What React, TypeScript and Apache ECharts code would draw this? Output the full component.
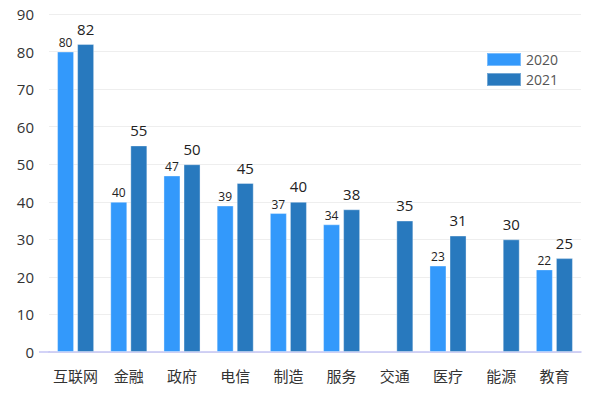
import React, { useEffect, useRef } from "react";
import * as echarts from "echarts";

const categories = ["互联网", "金融", "政府", "电信", "制造", "服务", "交通", "医疗", "能源", "教育"];
const values2020: (number | null)[] = [80, 40, 47, 39, 37, 34, null, 23, null, 22];
const values2021: number[] = [82, 55, 50, 45, 40, 38, 35, 31, 30, 25];
const seriesNames = ["2020", "2021"];
const yTicks = { min: 0, max: 90, interval: 10 };

const FONT = "'Open Sans', 'Noto Sans CJK SC', sans-serif";

export default function App() {
  const ref = useRef<HTMLDivElement>(null);
  useEffect(() => {
    if (!ref.current) return;
    const chart = echarts.init(ref.current, undefined, { renderer: "svg" });
    chart.setOption({
      animation: false,
      backgroundColor: "#ffffff",
      grid: { left: 49, right: 18, top: 14, bottom: 43, containLabel: false },
      legend: {
        orient: "vertical",
        left: 481,
        top: 47,
        itemWidth: 34,
        itemHeight: 13,
        itemGap: 5,
        icon: "rect",
        textStyle: { fontSize: 14, color: "#555", fontFamily: FONT },
        data: seriesNames,
      },
      graphic: [
        {
          type: "line",
          shape: { x1: 39, y1: 352, x2: 50, y2: 352 },
          style: { stroke: "#c4c4f4", lineWidth: 1.5 },
          silent: true,
        },
      ],
      xAxis: {
        type: "category",
        data: categories,
        axisTick: { show: false },
        axisLine: { lineStyle: { color: "#c4c4f4", width: 1.5 } },
        axisLabel: {
          interval: 0,
          margin: 16,
          fontSize: 15,
          color: "#333",
          fontFamily: "'Noto Sans CJK SC', sans-serif",
        },
      },
      yAxis: {
        type: "value",
        min: yTicks.min,
        max: yTicks.max,
        interval: yTicks.interval,
        axisLine: { show: false },
        axisTick: { show: false },
        axisLabel: { margin: 15, fontSize: 15, color: "#333", fontFamily: FONT },
        splitLine: { lineStyle: { color: "#eeeeee" } },
      },
      series: [
        {
          name: seriesNames[0],
          type: "bar",
          data: values2020.map((v) => (v === null ? "-" : v)),
          barWidth: 17,
          barGap: "18%",
          itemStyle: { color: "#3399fb", borderColor: "rgba(255,255,255,0.35)", borderWidth: 1 },
          label: { show: true, position: "top", distance: 3, fontSize: 12, color: "#222", fontFamily: FONT },
        },
        {
          name: seriesNames[1],
          type: "bar",
          data: values2021,
          barWidth: 17,
          itemStyle: { color: "#2879be", borderColor: "rgba(255,255,255,0.35)", borderWidth: 1 },
          label: { show: true, position: "top", distance: 8, fontSize: 15, color: "#222", fontFamily: FONT },
        },
      ],
    });
    return () => chart.dispose();
  }, []);
  return (
    <div
      ref={ref}
      style={{ position: "fixed", left: 0, top: 0, width: 599, height: 395 }}
    />
  );
}
